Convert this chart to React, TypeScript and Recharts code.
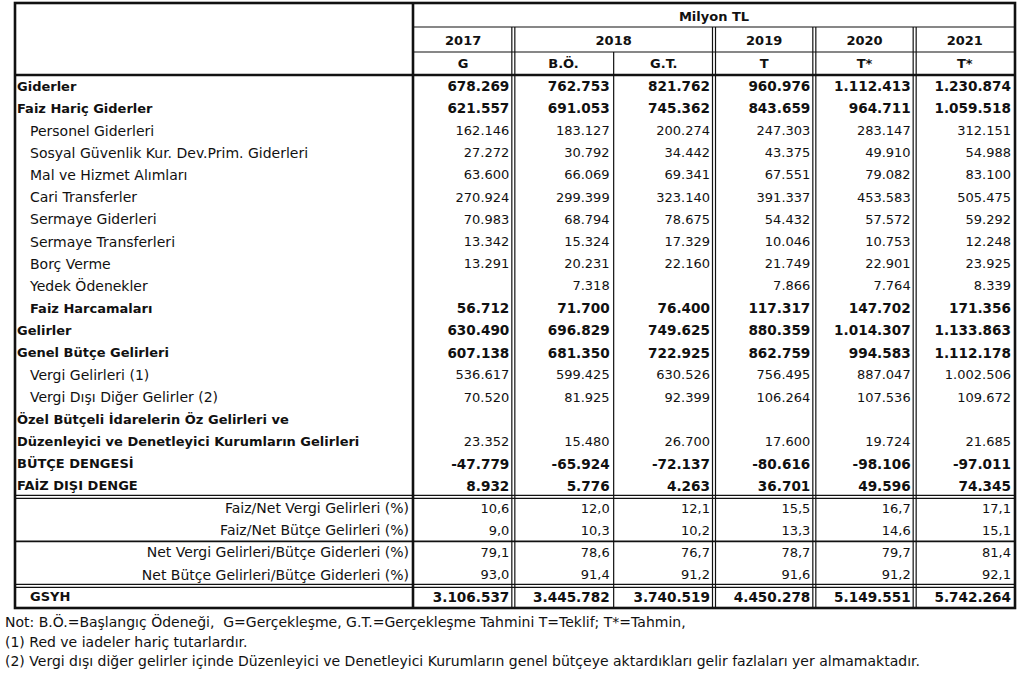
import React from "react";
import { ScatterChart, Scatter, XAxis, YAxis, Customized } from "recharts";

// Table body rows (the Özel... label wraps over two rows)
const ROWS = [
  "Giderler",
  "Faiz Hariç Giderler",
  "Personel Giderleri",
  "Sosyal Güvenlik Kur. Dev.Prim. Giderleri",
  "Mal ve Hizmet Alımları",
  "Cari Transferler",
  "Sermaye Giderleri",
  "Sermaye Transferleri",
  "Borç Verme",
  "Yedek Ödenekler",
  "Faiz Harcamaları",
  "Gelirler",
  "Genel Bütçe Gelirleri",
  "Vergi Gelirleri (1)",
  "Vergi Dışı Diğer Gelirler (2)",
  "Özel Bütçeli İdarelerin Öz Gelirleri ve",
  "Düzenleyici ve Denetleyici Kurumların Gelirleri",
  "BÜTÇE DENGESİ",
  "FAİZ DIŞI DENGE",
  "Faiz/Net Vergi Gelirleri (%)",
  "Faiz/Net Bütçe Gelirleri (%)",
  "Net Vergi Gelirleri/Bütçe Giderleri (%)",
  "Net Bütçe Gelirleri/Bütçe Giderleri (%)",
  "GSYH",
];

const COL_YEARS = ["2017", "2018", "2018", "2019", "2020", "2021"];
const COL_TYPES = ["G", "B.Ö.", "G.T.", "T", "T*", "T*"];

const V2017 = [
  678269, 621557, 162146, 27272, 63600, 270924, 70983, 13342, 13291, null, 56712,
  630490, 607138, 536617, 70520, null, 23352, -47779, 8932, 10.6, 9.0, 79.1, 93.0, 3106537,
];
const V2018_BO = [
  762753, 691053, 183127, 30792, 66069, 299399, 68794, 15324, 20231, 7318, 71700,
  696829, 681350, 599425, 81925, null, 15480, -65924, 5776, 12.0, 10.3, 78.6, 91.4, 3445782,
];
const V2018_GT = [
  821762, 745362, 200274, 34442, 69341, 323140, 78675, 17329, 22160, null, 76400,
  749625, 722925, 630526, 92399, null, 26700, -72137, 4263, 12.1, 10.2, 76.7, 91.2, 3740519,
];
const V2019 = [
  960976, 843659, 247303, 43375, 67551, 391337, 54432, 10046, 21749, 7866, 117317,
  880359, 862759, 756495, 106264, null, 17600, -80616, 36701, 15.5, 13.3, 78.7, 91.6, 4450278,
];
const V2020 = [
  1112413, 964711, 283147, 49910, 79082, 453583, 57572, 10753, 22901, 7764, 147702,
  1014307, 994583, 887047, 107536, null, 19724, -98106, 49596, 16.7, 14.6, 79.7, 91.2, 5149551,
];
const V2021 = [
  1230874, 1059518, 312151, 54988, 83100, 505475, 59292, 12248, 23925, 8339, 171356,
  1133863, 1112178, 1002506, 109672, null, 21685, -97011, 74345, 17.1, 15.1, 81.4, 92.1, 5742264,
];
const COLUMNS = [V2017, V2018_BO, V2018_GT, V2019, V2020, V2021];

const NOTES = [
  "Not: B.Ö.=Başlangıç Ödeneği,  G=Gerçekleşme, G.T.=Gerçekleşme Tahmini T=Teklif; T*=Tahmin,",
  "(1) Red ve iadeler hariç tutarlardır.",
  "(2) Vergi dışı diğer gelirler içinde Düzenleyici ve Denetleyici Kurumların genel bütçeye aktardıkları gelir fazlaları yer almamaktadır.",
];

// row styling (indices into ROWS)
const BOLD_LABEL = new Set([0, 1, 10, 11, 12, 15, 16, 17, 18, 23]);
const BOLD_VALUE = new Set([0, 1, 10, 11, 12, 17, 18, 23]);
const INDENTED = new Set([2, 3, 4, 5, 6, 7, 8, 9, 10, 13, 14, 23]);
const RIGHT_LABEL = new Set([19, 20, 21, 22]);
const PCT_ROWS = new Set([19, 20, 21, 22]);

// layout
const W = 1024;
const H = 676;
const OUT_L = 15;
const OUT_T = 3;
const LEFT = 413;
const RIGHT = 1015;
const TOP = 75;
const BOTTOM = 608;
const BAND = (RIGHT - LEFT) / COLUMNS.length;
const ROW_H = (BOTTOM - TOP) / ROWS.length;
const FONT = "'DejaVu Sans', sans-serif";
const INK = "#111";

const colKey = (i: number) => `${COL_YEARS[i]} ${COL_TYPES[i]}`;

// Turkish style: dot thousands, comma decimals
function fmt(v: number | null, pct: boolean): string {
  if (v == null) return "";
  if (pct) return v.toFixed(1).replace(".", ",");
  const s = Math.abs(v).toString().replace(/\B(?=(\d{3})+(?!\d))/g, ".");
  return v < 0 ? `-${s}` : s;
}

const cells = ROWS.flatMap((row, r) =>
  COLUMNS.map((col, c) => ({ row, col: colKey(c), r, v: col[r] }))
);

function CellText(props: any) {
  const { cx, cy, payload } = props;
  if (payload.v == null) return <g />;
  const bold = BOLD_VALUE.has(payload.r);
  return (
    <text
      x={cx + BAND / 2 - 4}
      y={cy}
      textAnchor="end"
      dominantBaseline="central"
      fontFamily={FONT}
      fontSize={bold ? 13.6 : 13}
      fontWeight={bold ? 700 : 400}
      fill={INK}
    >
      {fmt(payload.v, PCT_ROWS.has(payload.r))}
    </text>
  );
}

function RowTick(props: any) {
  const { y, payload } = props;
  const r = ROWS.indexOf(payload.value);
  const right = RIGHT_LABEL.has(r);
  const bold = BOLD_LABEL.has(r);
  return (
    <text
      x={right ? LEFT - 4 : INDENTED.has(r) ? OUT_L + 15 : OUT_L + 2}
      y={y}
      textAnchor={right ? "end" : "start"}
      dominantBaseline="central"
      fontFamily={FONT}
      fontSize={bold ? 13 : 14}
      fontWeight={bold ? 700 : 400}
      fill={INK}
    >
      {payload.value}
    </text>
  );
}

function HeadTick(props: any) {
  const { x, payload } = props;
  const c = payload.index;
  const sameAsPrev = c > 0 && COL_YEARS[c - 1] === COL_YEARS[c];
  const sameAsNext = c < COL_YEARS.length - 1 && COL_YEARS[c + 1] === COL_YEARS[c];
  return (
    <g fontFamily={FONT} fontSize={13} fontWeight={700} fill={INK}>
      {!sameAsPrev && (
        <text
          x={sameAsNext ? x + BAND / 2 : x}
          y={40}
          textAnchor="middle"
          dominantBaseline="central"
        >
          {COL_YEARS[c]}
        </text>
      )}
      <text x={x} y={63} textAnchor="middle" dominantBaseline="central">
        {COL_TYPES[c]}
      </text>
    </g>
  );
}

function TableLines() {
  const rowY = (i: number) => TOP + i * ROW_H;
  const dbl = (x1: number, y1: number, x2: number, y2: number, key: string) => {
    const vert = x1 === x2;
    return (
      <g key={key}>
        <line
          x1={vert ? x1 - 1.5 : x1}
          x2={vert ? x2 - 1.5 : x2}
          y1={vert ? y1 : y1 - 1.5}
          y2={vert ? y2 : y2 - 1.5}
          stroke={INK}
          strokeWidth={1.2}
        />
        <line
          x1={vert ? x1 + 1.5 : x1}
          x2={vert ? x2 + 1.5 : x2}
          y1={vert ? y1 : y1 + 1.5}
          y2={vert ? y2 : y2 + 1.5}
          stroke={INK}
          strokeWidth={1.2}
        />
      </g>
    );
  };
  const seps = [];
  for (let c = 1; c < COL_YEARS.length; c++) {
    const x = LEFT + c * BAND;
    if (COL_YEARS[c] === COL_YEARS[c - 1]) {
      seps.push(
        <line key={`s${c}`} x1={x} x2={x} y1={52} y2={BOTTOM} stroke={INK} strokeWidth={1.2} />
      );
    } else {
      seps.push(dbl(x, 27, x, BOTTOM, `s${c}`));
    }
  }
  return (
    <g>
      <text
        x={(LEFT + RIGHT) / 2}
        y={16}
        textAnchor="middle"
        dominantBaseline="central"
        fontFamily={FONT}
        fontSize={13}
        fontWeight={700}
        fill={INK}
      >
        Milyon TL
      </text>
      <line x1={LEFT} x2={RIGHT} y1={27} y2={27} stroke={INK} strokeWidth={1.2} />
      <line x1={LEFT} x2={RIGHT} y1={52} y2={52} stroke={INK} strokeWidth={1.2} />
      <line x1={OUT_L} x2={RIGHT} y1={TOP} y2={TOP} stroke={INK} strokeWidth={2.6} />
      {seps}
      {dbl(OUT_L, rowY(19), RIGHT, rowY(19), "h19")}
      <line x1={OUT_L} x2={RIGHT} y1={rowY(21)} y2={rowY(21)} stroke={INK} strokeWidth={1.6} />
      {dbl(OUT_L, rowY(23), RIGHT, rowY(23), "h23")}
      <line x1={LEFT} x2={LEFT} y1={OUT_T} y2={BOTTOM} stroke={INK} strokeWidth={2.6} />
      <rect
        x={OUT_L}
        y={OUT_T}
        width={RIGHT - OUT_L}
        height={BOTTOM - OUT_T}
        fill="none"
        stroke={INK}
        strokeWidth={2.6}
      />
      {NOTES.map((n, i) => (
        <text
          key={i}
          x={5}
          y={627 + i * 19.5}
          fontFamily={FONT}
          fontSize={14}
          fill={INK}
          style={{ whiteSpace: "pre" }}
        >
          {n}
        </text>
      ))}
    </g>
  );
}

export default function App() {
  return (
    <div style={{ position: "absolute", left: 0, top: 0, width: W, height: H, background: "#fff" }}>
      <ScatterChart
        width={W}
        height={H}
        margin={{ top: OUT_T, left: OUT_L, right: W - RIGHT, bottom: H - BOTTOM }}
      >
        <XAxis
          xAxisId="c"
          type="category"
          dataKey="col"
          orientation="top"
          height={TOP - OUT_T}
          allowDuplicatedCategory={false}
          axisLine={false}
          tickLine={false}
          interval={0}
          tick={<HeadTick />}
        />
        <YAxis
          yAxisId="r"
          type="category"
          dataKey="row"
          width={LEFT - OUT_L}
          allowDuplicatedCategory={false}
          axisLine={false}
          tickLine={false}
          interval={0}
          reversed
          tick={<RowTick />}
        />
        <Scatter
          xAxisId="c"
          yAxisId="r"
          data={cells}
          shape={<CellText />}
          isAnimationActive={false}
        />
        <Customized component={<TableLines />} />
      </ScatterChart>
    </div>
  );
}
